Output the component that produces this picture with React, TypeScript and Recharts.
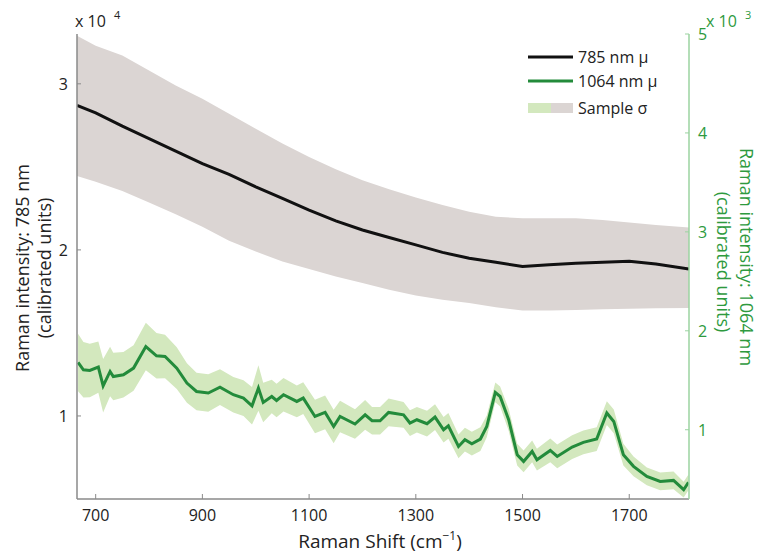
import React from 'react';
import { ComposedChart, Area, Line, XAxis, YAxis } from 'recharts';

document.body.style.margin = '0';

// 785 nm excitation: mean and ±σ band (left axis)
const shift785 = [665, 700, 750, 800, 850, 900, 950, 1000, 1050, 1100, 1150, 1200, 1250, 1300, 1350, 1400, 1450, 1500, 1550, 1600, 1650, 1700, 1750, 1812];
const mean785 = [28700, 28250, 27450, 26700, 25950, 25200, 24550, 23800, 23100, 22400, 21750, 21200, 20750, 20300, 19850, 19500, 19250, 19000, 19100, 19200, 19250, 19320, 19150, 18850];
const upper785 = [32900, 32300, 31700, 30800, 29900, 29100, 28200, 27300, 26400, 25600, 24850, 24200, 23650, 23150, 22700, 22300, 22000, 21900, 21900, 21900, 21800, 21650, 21500, 21350];
const lower785 = [24450, 24100, 23550, 22850, 22150, 21400, 20550, 19900, 19300, 18850, 18400, 18000, 17600, 17250, 17000, 16800, 16550, 16350, 16350, 16380, 16420, 16450, 16480, 16500];

// 1064 nm excitation: mean and σ (right axis)
const shift1064 = [667, 677, 689, 705, 714, 727, 733, 752, 771, 794, 814, 830, 852, 871, 889, 911, 933, 958, 977, 993, 1005, 1014, 1030, 1039, 1052, 1077, 1089, 1111, 1130, 1146, 1158, 1186, 1205, 1218, 1233, 1249, 1277, 1289, 1302, 1321, 1336, 1352, 1361, 1380, 1392, 1405, 1421, 1433, 1449, 1458, 1474, 1490, 1502, 1518, 1527, 1552, 1565, 1593, 1614, 1639, 1658, 1671, 1689, 1708, 1733, 1758, 1783, 1802, 1811];
const mean1064 = [1680, 1606, 1599, 1633, 1444, 1589, 1538, 1555, 1623, 1841, 1747, 1740, 1623, 1472, 1387, 1371, 1431, 1354, 1320, 1242, 1421, 1276, 1336, 1296, 1354, 1286, 1320, 1134, 1175, 1033, 1134, 1058, 1151, 1091, 1091, 1175, 1151, 1068, 1101, 1061, 1128, 1000, 1040, 831, 899, 859, 906, 1033, 1377, 1336, 1101, 748, 680, 781, 697, 791, 730, 825, 872, 906, 1169, 1084, 748, 630, 528, 478, 488, 394, 468];
const sigma1064 = [290, 280, 270, 260, 270, 250, 240, 230, 230, 240, 230, 220, 210, 200, 190, 190, 180, 180, 180, 190, 230, 200, 170, 170, 170, 160, 160, 170, 170, 170, 160, 150, 150, 140, 140, 140, 130, 130, 130, 130, 130, 130, 130, 120, 120, 120, 120, 110, 100, 100, 110, 110, 110, 110, 110, 120, 120, 120, 120, 120, 120, 120, 110, 100, 90, 90, 90, 80, 80];

const xTicks = [700, 900, 1100, 1300, 1500, 1700];
const leftTicks = [10000, 20000, 30000];
const rightTicks = [1000, 2000, 3000, 4000, 5000];

const GRAY_BAND = '#dbd5d3';
const GREEN_BAND = '#d3e8be';
const GREEN = '#238b3b';
const GREEN_TXT = '#2e9a3e';
const GREEN_AXIS = '#9bd3a0';
const AXIS = '#8a8a8a';
const FONT = '"Open Sans", sans-serif';

type Row = { shift: number; band785?: number[]; mean785?: number; band1064?: number[]; mean1064?: number };

const rowMap = new Map<number, Row>();
const rowAt = (x: number) => {
  if (!rowMap.has(x)) rowMap.set(x, { shift: x });
  return rowMap.get(x) as Row;
};
shift785.forEach((x, i) => {
  const r = rowAt(x);
  r.mean785 = mean785[i];
  r.band785 = [lower785[i], upper785[i]];
});
shift1064.forEach((x, i) => {
  const r = rowAt(x);
  r.mean1064 = mean1064[i];
  r.band1064 = [mean1064[i] - sigma1064[i], mean1064[i] + sigma1064[i]];
});
const data = Array.from(rowMap.values()).sort((a, b) => a.shift - b.shift);

const M = 9;

const BottomTick = (props: any) => {
  const { x, y, payload } = props;
  return (
    <g>
      <line x1={x} x2={x} y1={y - M} y2={y - M - 5} stroke={AXIS} />
      <text x={x} y={y + 13} textAnchor="middle" fontSize={16} fontFamily={FONT} fill="#222">
        {payload.value}
      </text>
    </g>
  );
};

const LeftTick = (props: any) => {
  const { x, y, payload } = props;
  return (
    <g>
      <line x1={x + M} x2={x + M + 4} y1={y} y2={y} stroke={AXIS} />
      <text x={x} y={y + 6} textAnchor="end" fontSize={16} fontFamily={FONT} fill="#222">
        {payload.value / 10000}
      </text>
    </g>
  );
};

const RightTick = (props: any) => {
  const { x, y, payload } = props;
  return (
    <g>
      <line x1={x - M} x2={x - M - 4} y1={y} y2={y} stroke={GREEN_AXIS} />
      <text x={x} y={y + 6} textAnchor="start" fontSize={16} fontFamily={FONT} fill={GREEN_TXT}>
        {payload.value / 1000}
      </text>
    </g>
  );
};

export default function App() {
  return (
    <div style={{ position: 'relative', width: 759, height: 554, background: '#fff' }}>
      <ComposedChart width={759} height={554} data={data} margin={{ top: 34, right: 0, bottom: 0, left: 0 }}>
        <XAxis
          dataKey="shift"
          type="number"
          domain={[665, 1812]}
          ticks={xTicks}
          allowDataOverflow
          height={55}
          tickSize={0}
          tickMargin={M}
          tick={<BottomTick />}
          axisLine={{ stroke: AXIS, strokeWidth: 1.5 }}
        />
        <YAxis
          yAxisId="l"
          domain={[5000, 33000]}
          ticks={leftTicks}
          allowDataOverflow
          width={77}
          tickSize={0}
          tickMargin={M}
          tick={<LeftTick />}
          axisLine={{ stroke: AXIS, strokeWidth: 1.5 }}
        />
        <YAxis
          yAxisId="r"
          orientation="right"
          domain={[300, 5000]}
          ticks={rightTicks}
          allowDataOverflow
          width={70}
          tickSize={0}
          tickMargin={M}
          tick={<RightTick />}
          axisLine={{ stroke: GREEN_AXIS, strokeWidth: 1.5 }}
        />
        <Area yAxisId="l" dataKey="band785" stroke="none" fill={GRAY_BAND} fillOpacity={1} connectNulls isAnimationActive={false} />
        <Area yAxisId="r" dataKey="band1064" stroke="none" fill={GREEN_BAND} fillOpacity={1} connectNulls isAnimationActive={false} />
        <Line yAxisId="l" dataKey="mean785" stroke="#111" strokeWidth={3} dot={false} connectNulls isAnimationActive={false} />
        <Line yAxisId="r" dataKey="mean1064" stroke={GREEN} strokeWidth={3} dot={false} connectNulls isAnimationActive={false} />
      </ComposedChart>

      <svg width={759} height={554} style={{ position: 'absolute', left: 0, top: 0, pointerEvents: 'none' }} fontFamily={FONT}>
        {/* exponent labels */}
        <text x={75} y={27} fontSize={16} fill="#222">x 10</text>
        <text x={114} y={19} fontSize={11} fill="#222">4</text>
        <text x={706} y={27} fontSize={16} fill={GREEN_TXT}>x 10</text>
        <text x={745} y={19} fontSize={11} fill={GREEN_TXT}>3</text>

        {/* axis titles */}
        <text x={380} y={548} fontSize={19} textAnchor="middle" fill="#222">
          Raman Shift (cm<tspan dy={-8} fontSize={12}>−1</tspan><tspan dy={8}>)</tspan>
        </text>
        <g transform="translate(22,268) rotate(-90)">
          <text x={0} y={0} fontSize={18} textAnchor="middle" dominantBaseline="central" fill="#222">Raman intensity: 785 nm</text>
        </g>
        <g transform="translate(44,268) rotate(-90)">
          <text x={0} y={0} fontSize={18} textAnchor="middle" dominantBaseline="central" fill="#222">(calibrated units)</text>
        </g>
        <g transform="translate(747,257) rotate(90)">
          <text x={0} y={0} fontSize={18} textAnchor="middle" dominantBaseline="central" fill={GREEN_TXT}>Raman intensity: 1064 nm</text>
        </g>
        <g transform="translate(724,262) rotate(90)">
          <text x={0} y={0} fontSize={18} textAnchor="middle" dominantBaseline="central" fill={GREEN_TXT}>(calibrated units)</text>
        </g>

        {/* legend */}
        <line x1={528} x2={573} y1={57} y2={57} stroke="#111" strokeWidth={3} />
        <text x={578} y={63} fontSize={16} fill="#222">785 nm μ</text>
        <line x1={528} x2={573} y1={81} y2={81} stroke={GREEN} strokeWidth={3} />
        <text x={578} y={87} fontSize={16} fill="#222">1064 nm μ</text>
        <rect x={528} y={103} width={23} height={10} fill={GREEN_BAND} />
        <rect x={551} y={103} width={22} height={10} fill={GRAY_BAND} />
        <text x={578} y={114} fontSize={16} fill="#222">Sample σ</text>
      </svg>
    </div>
  );
}
